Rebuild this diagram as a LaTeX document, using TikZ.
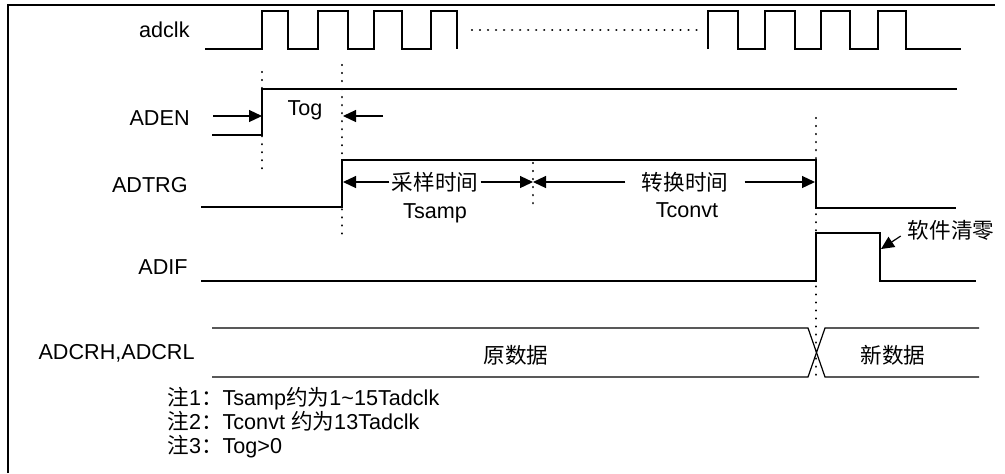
\documentclass[tikz,border=0pt]{standalone}
\usepackage{fontspec}
\setmainfont{Liberation Sans}
\newfontfamily\cjk{Noto Sans CJK SC}
\usetikzlibrary{arrows.meta}

\begin{document}
\begin{tikzpicture}[x=0.5pt, y=-0.5pt, >={Triangle[length=6.5pt,width=6pt]},
    font=\fontsize{10.8}{13}\selectfont,
    sig/.style={line width=0.6pt},
    guide/.style={line width=1.2pt, dash pattern=on 0.01pt off 4pt, line cap=round},
    lbl/.style={anchor=east, inner sep=0pt},
    note/.style={anchor=base west, inner sep=0pt}]

    \useasboundingbox (0,0) rectangle (1005,473);

    % --- Frame ---
    \draw[line width=1pt] (8,473) -- (8,5) -- (995,5);

    % --- Signal names ---
    \node[lbl] (adclk) at (190,30) {adclk};
    \node[lbl] (aden) at (190,118) {ADEN};
    \node[lbl] (adtrg) at (188,185) {ADTRG};
    \node[lbl] (adif) at (188,267) {ADIF};
    \node[lbl] (adcr) at (195,353) {ADCRH,ADCRL};

    % --- Guide lines ---
    \draw[guide] (262,72) -- (262,173);
    \draw[guide] (342,65) -- (342,238);
    \draw[guide] (533,163) -- (533,205);
    \draw[guide] (816,118) -- (816,377);

    % --- adclk ---
    \draw[sig] (205,49) -| (262,11) -| (288,49) -| (318,11) -| (348,49) -| (374,11)
        -| (402,49) -| (431,11) -| (457,49);
    \draw[guide] (472,30) -- (700,30);
    \draw[sig] (708,49) -- (708,11) -| (738,49) -| (765,11) -| (795,49) -| (821,11)
        -| (850,49) -| (878,11) -| (906,49) -- (961,49);

    % --- ADEN ---
    \draw[sig] (212,135) -| (262,89) -- (957,89);
    \node (tog) at (305,110) {Tog};
    \coordinate (togA) at (262,116);
    \coordinate (togB) at (343,116);
    \draw[sig, ->] (213,116) -- (togA);
    \draw[sig, ->] (383,116) -- (togB);

    % --- ADTRG ---
    \draw[sig] (201,207) -| (342,160) -- (816,160) |- (956,208);
    \coordinate (smpA) at (343,182);
    \coordinate (smpB) at (533,182);
    \coordinate (cnvB) at (815,182);
    \node[inner xsep=1pt] (samp) at (435,182) {\cjk 采样时间};
    \node (tsamp) at (435,213) {Tsamp};
    \draw[sig, ->] (samp.west) -- (smpA);
    \draw[sig, ->] (samp.east) -- (smpB);
    \node[inner xsep=8pt] (conv) at (685,182) {\cjk 转换时间};
    \node (tconv) at (687,210) {Tconvt};
    \draw[sig, ->] (conv.west) -- (smpB);
    \draw[sig, ->] (conv.east) -- (cnvB);

    % --- ADIF ---
    \draw[sig] (201,281) -| (816,233) -| (880,281) -- (976,281);
    \node (clr) at (951,230) {\cjk 软件清零};
    \coordinate (clrA) at (881,249);
    \draw[sig, ->] ([yshift=-3pt]clr.west) -- (clrA);

    % --- ADCRH,ADCRL ---
    \draw[sig] (212,328) -- (808,328) -- (825,377) -- (979,377);
    \draw[sig] (212,377) -- (808,377) -- (825,328) -- (979,328);
    \node (old) at (516,355) {\cjk 原数据};
    \node (new) at (893,355) {\cjk 新数据};

    % --- Notes ---
    \node[note] (n1) at (167,405) {{\cjk 注}1{\cjk ：}Tsamp{\cjk 约为}1\textasciitilde15Tadclk};
    \node[note] (n2) at (167,429) {{\cjk 注}2{\cjk ：}Tconvt {\cjk 约为}13Tadclk};
    \node[note] (n3) at (167,453) {{\cjk 注}3{\cjk ：}Tog>0};

\end{tikzpicture}
\end{document}
